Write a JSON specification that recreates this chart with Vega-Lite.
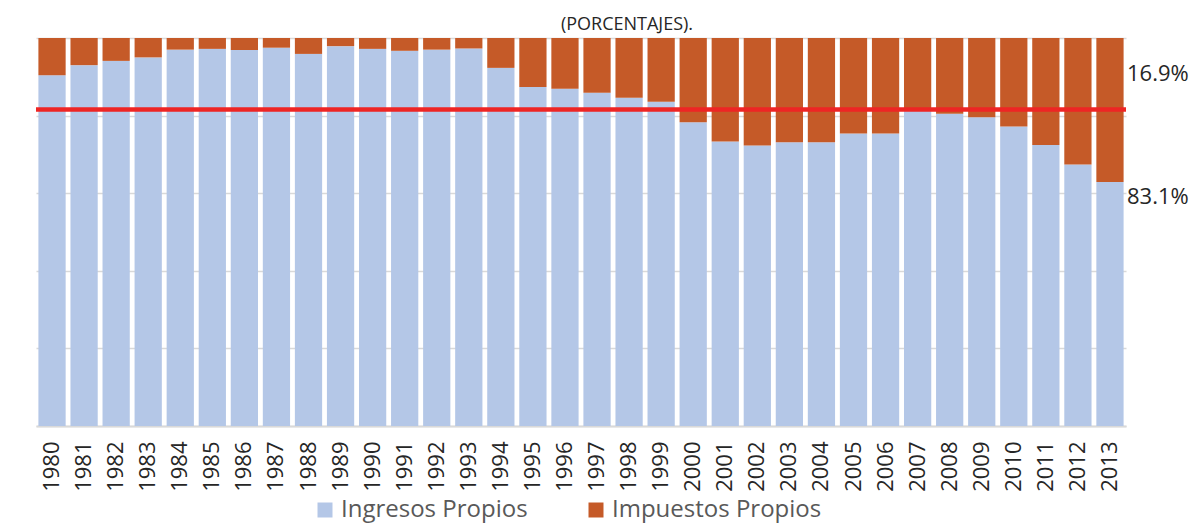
{
  "$schema": "https://vega.github.io/schema/vega-lite/v6.json",
  "autosize": {"type": "none"},
  "padding": {"left": 36, "top": 38, "right": 64, "bottom": 98},
  "width": 1090,
  "height": 388,
  "background": "white",
  "config": {"font": "Open Sans", "view": {"stroke": null}},
  "title": {"text": "(PORCENTAJES).", "fontSize": 18, "fontWeight": "normal", "color": "#262626", "anchor": "middle", "dx": 46, "offset": 4},
  "layer": [
    {
      "data": {"values": [
        {"year": "1980", "serie": "Ingresos Propios", "value": 90.4}, {"year": "1980", "serie": "Impuestos Propios", "value": 9.6},
        {"year": "1981", "serie": "Ingresos Propios", "value": 93.0}, {"year": "1981", "serie": "Impuestos Propios", "value": 7.0},
        {"year": "1982", "serie": "Ingresos Propios", "value": 94.1}, {"year": "1982", "serie": "Impuestos Propios", "value": 5.9},
        {"year": "1983", "serie": "Ingresos Propios", "value": 95.0}, {"year": "1983", "serie": "Impuestos Propios", "value": 5.0},
        {"year": "1984", "serie": "Ingresos Propios", "value": 97.0}, {"year": "1984", "serie": "Impuestos Propios", "value": 3.0},
        {"year": "1985", "serie": "Ingresos Propios", "value": 97.2}, {"year": "1985", "serie": "Impuestos Propios", "value": 2.8},
        {"year": "1986", "serie": "Ingresos Propios", "value": 96.9}, {"year": "1986", "serie": "Impuestos Propios", "value": 3.1},
        {"year": "1987", "serie": "Ingresos Propios", "value": 97.5}, {"year": "1987", "serie": "Impuestos Propios", "value": 2.5},
        {"year": "1988", "serie": "Ingresos Propios", "value": 95.9}, {"year": "1988", "serie": "Impuestos Propios", "value": 4.1},
        {"year": "1989", "serie": "Ingresos Propios", "value": 97.9}, {"year": "1989", "serie": "Impuestos Propios", "value": 2.1},
        {"year": "1990", "serie": "Ingresos Propios", "value": 97.2}, {"year": "1990", "serie": "Impuestos Propios", "value": 2.8},
        {"year": "1991", "serie": "Ingresos Propios", "value": 96.7}, {"year": "1991", "serie": "Impuestos Propios", "value": 3.3},
        {"year": "1992", "serie": "Ingresos Propios", "value": 97.0}, {"year": "1992", "serie": "Impuestos Propios", "value": 3.0},
        {"year": "1993", "serie": "Ingresos Propios", "value": 97.3}, {"year": "1993", "serie": "Impuestos Propios", "value": 2.7},
        {"year": "1994", "serie": "Ingresos Propios", "value": 92.3}, {"year": "1994", "serie": "Impuestos Propios", "value": 7.7},
        {"year": "1995", "serie": "Ingresos Propios", "value": 87.4}, {"year": "1995", "serie": "Impuestos Propios", "value": 12.6},
        {"year": "1996", "serie": "Ingresos Propios", "value": 86.9}, {"year": "1996", "serie": "Impuestos Propios", "value": 13.1},
        {"year": "1997", "serie": "Ingresos Propios", "value": 85.9}, {"year": "1997", "serie": "Impuestos Propios", "value": 14.1},
        {"year": "1998", "serie": "Ingresos Propios", "value": 84.6}, {"year": "1998", "serie": "Impuestos Propios", "value": 15.4},
        {"year": "1999", "serie": "Ingresos Propios", "value": 83.6}, {"year": "1999", "serie": "Impuestos Propios", "value": 16.4},
        {"year": "2000", "serie": "Ingresos Propios", "value": 78.3}, {"year": "2000", "serie": "Impuestos Propios", "value": 21.7},
        {"year": "2001", "serie": "Ingresos Propios", "value": 73.3}, {"year": "2001", "serie": "Impuestos Propios", "value": 26.7},
        {"year": "2002", "serie": "Ingresos Propios", "value": 72.3}, {"year": "2002", "serie": "Impuestos Propios", "value": 27.7},
        {"year": "2003", "serie": "Ingresos Propios", "value": 73.1}, {"year": "2003", "serie": "Impuestos Propios", "value": 26.9},
        {"year": "2004", "serie": "Ingresos Propios", "value": 73.1}, {"year": "2004", "serie": "Impuestos Propios", "value": 26.9},
        {"year": "2005", "serie": "Ingresos Propios", "value": 75.4}, {"year": "2005", "serie": "Impuestos Propios", "value": 24.6},
        {"year": "2006", "serie": "Ingresos Propios", "value": 75.4}, {"year": "2006", "serie": "Impuestos Propios", "value": 24.6},
        {"year": "2007", "serie": "Ingresos Propios", "value": 81.4}, {"year": "2007", "serie": "Impuestos Propios", "value": 18.6},
        {"year": "2008", "serie": "Ingresos Propios", "value": 80.5}, {"year": "2008", "serie": "Impuestos Propios", "value": 19.5},
        {"year": "2009", "serie": "Ingresos Propios", "value": 79.6}, {"year": "2009", "serie": "Impuestos Propios", "value": 20.4},
        {"year": "2010", "serie": "Ingresos Propios", "value": 77.2}, {"year": "2010", "serie": "Impuestos Propios", "value": 22.8},
        {"year": "2011", "serie": "Ingresos Propios", "value": 72.4}, {"year": "2011", "serie": "Impuestos Propios", "value": 27.6},
        {"year": "2012", "serie": "Ingresos Propios", "value": 67.4}, {"year": "2012", "serie": "Impuestos Propios", "value": 32.6},
        {"year": "2013", "serie": "Ingresos Propios", "value": 62.9}, {"year": "2013", "serie": "Impuestos Propios", "value": 37.1}
      ]},
      "mark": {"type": "bar"},
      "encoding": {
        "x": {"field": "year", "type": "ordinal", "title": null,
              "scale": {"paddingInner": 0.15, "paddingOuter": 0.075},
              "axis": {"labelAngle": -90, "labelFontSize": 22, "labelColor": "#262626", "labelPadding": 15, "ticks": false, "domainColor": "#D9D9D9", "domainWidth": 2, "grid": false}},
        "y": {"field": "value", "type": "quantitative", "stack": "zero", "title": null,
              "scale": {"domain": [0, 100], "nice": false},
              "axis": {"values": [0, 20, 40, 60, 80, 100], "labels": false, "ticks": false, "domain": false, "grid": true, "gridColor": "#D9D9D9", "gridWidth": 1.5}},
        "color": {"field": "serie", "type": "nominal", "title": null,
                  "scale": {"domain": ["Ingresos Propios", "Impuestos Propios"], "range": ["#B4C7E7", "#C55A28"]},
                  "legend": {"orient": "none", "legendX": 277, "legendY": 460, "direction": "horizontal", "symbolType": "square", "symbolSize": 225, "symbolStrokeWidth": 0, "labelFontSize": 24, "labelColor": "#595959", "labelOffset": 4, "labelLimit": 400, "columnPadding": 56}},
        "order": {"field": "serie", "sort": "descending"}
      }
    },
    {
      "data": {"values": [{}]},
      "mark": {"type": "rule", "color": "#EE2524", "strokeWidth": 4.5},
      "encoding": {"y": {"datum": 81.6}}
    },
    {
      "data": {"values": [{}]},
      "mark": {"type": "text", "align": "left", "baseline": "middle", "dx": 17, "fontSize": 22, "color": "#262626"},
      "encoding": {"x": {"datum": "2013", "type": "ordinal"}, "y": {"datum": 90.6, "type": "quantitative"}, "text": {"value": "16.9%"}}
    },
    {
      "data": {"values": [{}]},
      "mark": {"type": "text", "align": "left", "baseline": "middle", "dx": 17, "fontSize": 22, "color": "#262626"},
      "encoding": {"x": {"datum": "2013", "type": "ordinal"}, "y": {"datum": 59.1, "type": "quantitative"}, "text": {"value": "83.1%"}}
    }
  ]
}
